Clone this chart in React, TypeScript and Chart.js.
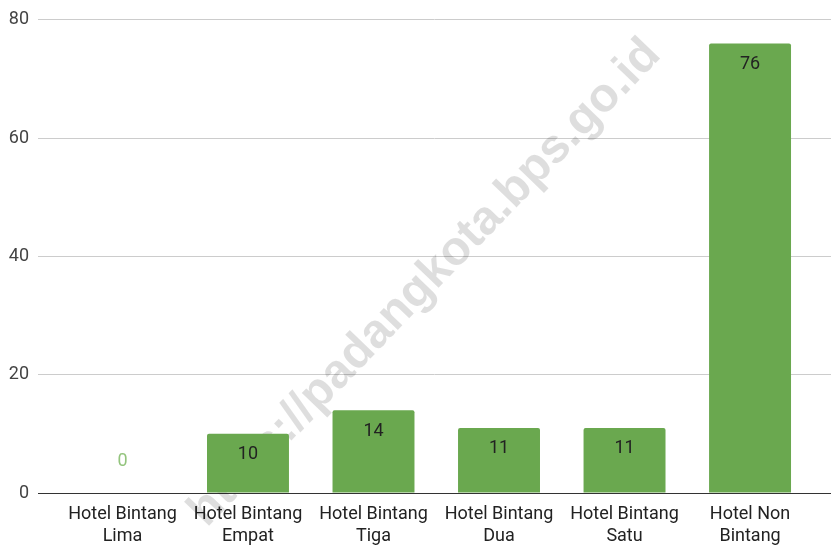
import React, { useEffect, useRef } from "react";
import { Chart, registerables } from "chart.js";

Chart.register(...registerables);

const categories: string[][] = [
  ["Hotel Bintang", "Lima"],
  ["Hotel Bintang", "Empat"],
  ["Hotel Bintang", "Tiga"],
  ["Hotel Bintang", "Dua"],
  ["Hotel Bintang", "Satu"],
  ["Hotel Non", "Bintang"],
];
const values: number[] = [0, 10, 14, 11, 11, 76];
const yTicks: number[] = [0, 20, 40, 60, 80];
const watermark = "https://padangkota.bps.go.id";

const FONT = "Roboto, 'Noto Sans', sans-serif";

const watermarkPlugin = {
  id: "watermark",
  beforeDatasetsDraw(chart: any) {
    const ctx = chart.ctx;
    ctx.save();
    ctx.translate(425, 283);
    ctx.rotate((-46 * Math.PI) / 180);
    ctx.font = "bold 48px 'Liberation Sans', Arial, sans-serif";
    ctx.fillStyle = "rgba(0,0,0,0.13)";
    ctx.textAlign = "center";
    ctx.textBaseline = "middle";
    ctx.fillText(watermark, 0, 0);
    ctx.restore();
  },
};

const labelPlugin = {
  id: "barLabels",
  afterDatasetsDraw(chart: any) {
    const ctx = chart.ctx;
    const meta = chart.getDatasetMeta(0);
    const yScale = chart.scales.y;
    ctx.save();
    ctx.font = `18px ${FONT}`;
    ctx.textAlign = "center";
    ctx.textBaseline = "middle";
    meta.data.forEach((bar: any, i: number) => {
      const v = values[i];
      if (v > 0) {
        ctx.fillStyle = "#222222";
        ctx.fillText(String(v), bar.x, bar.y + 21);
      } else {
        ctx.fillStyle = "#93c47d";
        ctx.fillText(String(v), bar.x, yScale.getPixelForValue(0) - 32);
      }
    });
    ctx.restore();
  },
};

export default function App() {
  const ref = useRef<HTMLCanvasElement | null>(null);

  useEffect(() => {
    document.body.style.margin = "0";
    const canvas = ref.current;
    if (!canvas) return;
    const chart = new Chart(canvas, {
      type: "bar",
      data: {
        datasets: [
          {
            data: values.map((v, i) => ({ x: i, y: v })),
            backgroundColor: "#6aa84f",
            borderRadius: { topLeft: 2, topRight: 2, bottomLeft: 0, bottomRight: 0 },
            borderSkipped: "bottom",
            barPercentage: 0.653,
            categoryPercentage: 1,
          },
        ],
      },
      options: {
        animation: false,
        responsive: false,
        maintainAspectRatio: false,
        layout: { padding: { top: 17, right: 0, left: 0, bottom: 0 } },
        plugins: {
          legend: { display: false },
          tooltip: { enabled: false },
        },
        scales: {
          x: {
            type: "linear",
            offset: false,
            min: -0.673,
            max: 5.645,
            grid: { display: false, drawTicks: false, offset: false },
            border: { display: true, color: "#333333", width: 1 },
            afterBuildTicks: (scale: any) => {
              scale.ticks = categories.map((_, i) => ({ value: i }));
            },
            afterFit: (scale: any) => {
              scale.height = 52;
            },
            ticks: {
              autoSkip: false,
              maxRotation: 0,
              minRotation: 0,
              padding: 11,
              color: "#222222",
              font: { family: FONT, size: 18, lineHeight: 1.22 },
              callback: (value: any) => categories[Math.round(Number(value))] ?? "",
            },
          },
          y: {
            min: 0,
            max: 80,
            afterBuildTicks: (scale: any) => {
              scale.ticks = yTicks.map((v) => ({ value: v }));
            },
            afterFit: (scale: any) => {
              scale.width = 38;
            },
            grid: { color: "#cccccc", drawTicks: false, lineWidth: 1 },
            border: { display: false },
            ticks: {
              padding: 9,
              color: "#444444",
              font: { family: FONT, size: 18 },
            },
          },
        },
      },
      plugins: [watermarkPlugin, labelPlugin],
    } as any);
    return () => chart.destroy();
  }, []);

  return (
    <div style={{ width: 831, height: 545, background: "#ffffff" }}>
      <canvas ref={ref} width={831} height={545} style={{ width: 831, height: 545, display: "block" }} />
    </div>
  );
}
